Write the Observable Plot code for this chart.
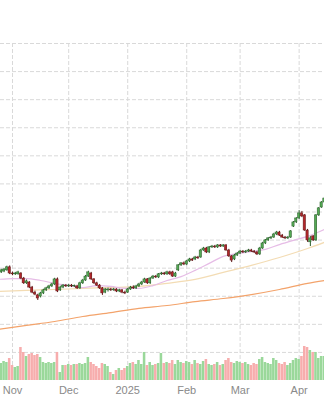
<!DOCTYPE html>
<html><head><meta charset="utf-8">
<script src="https://cdn.jsdelivr.net/npm/d3@7"></script>
<script src="https://cdn.jsdelivr.net/npm/@observablehq/plot@0.6"></script>
<style>
html,body{margin:0;padding:0;background:#fff;}
#chart{position:relative;width:324px;height:400px;overflow:hidden;}
#chart svg{position:absolute;left:0;top:0;}
</style></head><body>
<div id="chart"></div>
<script>
const dates = [
"2024-10-25","2024-10-28","2024-10-29","2024-10-30","2024-10-31",
"2024-11-01","2024-11-04","2024-11-05","2024-11-06","2024-11-07",
"2024-11-08","2024-11-11","2024-11-12","2024-11-13","2024-11-14",
"2024-11-15","2024-11-18","2024-11-19","2024-11-20","2024-11-21",
"2024-11-22","2024-11-25","2024-11-26","2024-11-27","2024-11-29",
"2024-12-02","2024-12-03","2024-12-04","2024-12-05","2024-12-06",
"2024-12-09","2024-12-10","2024-12-11","2024-12-12","2024-12-13",
"2024-12-16","2024-12-17","2024-12-18","2024-12-19","2024-12-20",
"2024-12-23","2024-12-24","2024-12-26","2024-12-27","2024-12-30",
"2024-12-31","2025-01-02","2025-01-03","2025-01-06","2025-01-07",
"2025-01-08","2025-01-09","2025-01-10","2025-01-13","2025-01-14",
"2025-01-15","2025-01-16","2025-01-17","2025-01-21","2025-01-22",
"2025-01-23","2025-01-24","2025-01-27","2025-01-28","2025-01-29",
"2025-01-30","2025-01-31","2025-02-03","2025-02-04","2025-02-05",
"2025-02-06","2025-02-07","2025-02-10","2025-02-11","2025-02-12",
"2025-02-13","2025-02-14","2025-02-18","2025-02-19","2025-02-20",
"2025-02-21","2025-02-24","2025-02-25","2025-02-26","2025-02-27",
"2025-02-28","2025-03-03","2025-03-04","2025-03-05","2025-03-06",
"2025-03-07","2025-03-10","2025-03-11","2025-03-12","2025-03-13",
"2025-03-14","2025-03-17","2025-03-18","2025-03-19","2025-03-20",
"2025-03-21","2025-03-24","2025-03-25","2025-03-26","2025-03-27",
"2025-03-28","2025-03-31","2025-04-01","2025-04-02","2025-04-03",
"2025-04-04","2025-04-07","2025-04-08","2025-04-09","2025-04-10",
"2025-04-11","2025-04-14"];

const open = [
118.1,118.5,118.8,119.2,120.3, 118.1,117.8,117.8,118.1,116.3,
114.6,114.9,113.1,111.3,110.3, 109.9,111.0,112.1,112.8,113.5,
114.2,116.0,112.1,113.1,113.8, 113.5,113.8,113.5,113.5,112.8,
114.6,115.6,117.0,118.1,116.0, 114.6,113.8,112.8,111.3,112.1,
112.4,112.1,112.4,111.7,112.1, 111.3,111.3,112.4,113.1,112.8,
113.5,114.2,114.9,116.0,114.6, 116.3,117.0,116.7,117.8,118.1,
117.8,118.5,118.5,117.0,119.2, 121.0,121.7,121.3,122.4,123.1,
123.1,123.8,123.8,126.3,127.0, 125.6,127.4,127.7,127.4,128.1,
127.7,128.1,126.3,124.2,123.1, 124.5,125.2,125.9,125.6,125.9,
126.3,125.9,125.6,124.9,127.0, 128.8,129.9,130.6,130.9,132.0,
132.7,131.6,130.9,130.6,130.9, 134.8,136.3,137.7,139.5,138.8,
133.4,129.2,131.3,129.9,138.8, 141.6,143.4];

const close = [
118.8,119.2,119.5,120.3,118.1, 117.8,118.1,118.5,116.3,114.6,
115.3,113.1,111.3,110.6,109.2, 111.0,112.1,112.8,113.5,114.2,
116.0,111.7,113.1,113.8,113.5, 113.8,113.5,113.7,112.8,114.6,
115.6,117.0,118.5,116.0,114.6, 113.8,112.8,111.0,112.4,112.4,
112.1,112.4,111.7,112.1,111.3, 111.0,112.4,113.1,112.8,113.5,
114.2,114.9,116.0,114.6,116.3, 117.0,116.7,117.8,118.1,117.8,
118.5,117.8,117.0,118.1,121.0, 121.7,121.3,122.4,123.1,122.7,
123.8,123.5,126.3,127.0,125.6, 127.4,127.7,127.4,128.1,127.7,
128.1,126.3,124.2,122.7,124.5, 125.2,125.9,125.6,125.9,126.3,
125.9,125.6,124.9,127.0,128.8, 129.9,130.6,130.9,132.0,132.7,
131.6,130.9,130.6,130.9,133.1, 136.3,137.7,139.5,138.4,133.4,
129.9,130.6,129.9,138.8,141.3, 143.4,144.8];

const high = [
119.3,119.6,119.9,120.7,120.8, 118.6,118.5,118.9,118.4,116.7,
115.8,115.2,113.5,111.8,110.7, 111.4,112.5,113.2,113.9,114.6,
116.4,116.5,113.6,114.2,114.2, 114.2,114.2,114.0,113.9,115.0,
116.0,117.4,118.9,118.5,116.3, 115.0,114.2,113.1,112.8,112.9,
112.8,112.8,112.7,112.5,112.4, 111.8,112.8,113.5,113.7,113.9,
114.6,115.3,116.4,116.3,116.7, 117.4,117.4,118.1,118.5,118.5,
118.9,118.9,118.9,118.5,121.3, 122.0,122.2,122.7,123.5,123.5,
124.2,124.2,126.7,127.4,127.4, 127.7,128.1,128.1,128.4,128.4,
128.4,128.4,126.7,124.5,124.9, 125.6,126.3,126.3,126.3,126.7,
126.7,126.3,126.0,127.4,129.2, 130.2,130.9,131.3,132.4,133.1,
133.1,132.0,131.3,131.3,133.4, 136.6,138.0,140.5,140.2,139.1,
133.8,131.3,131.6,139.1,141.6, 143.7,145.2];

const low = [
117.7,118.1,118.4,118.9,117.7, 117.3,117.4,117.5,115.9,114.2,
114.2,112.7,110.9,110.2,108.5, 109.4,110.6,111.7,112.4,113.1,
113.8,111.3,111.7,112.7,113.1, 113.1,113.1,113.1,112.4,112.4,
114.2,115.3,116.7,115.6,114.2, 113.5,112.4,110.3,110.9,111.5,
111.7,111.8,111.3,111.3,110.9, 110.6,111.0,112.1,112.4,112.4,
113.1,113.8,114.6,114.2,114.2, 116.0,116.3,116.3,117.4,117.4,
117.4,117.4,116.7,116.7,118.8, 120.6,120.9,120.9,122.0,122.4,
122.7,123.1,123.5,126.0,125.2, 125.2,127.0,127.0,127.0,127.4,
127.4,126.0,123.8,122.0,122.7, 124.2,124.9,125.2,125.2,125.6,
125.6,125.2,124.5,124.5,126.7, 128.4,129.5,130.2,130.6,131.6,
131.3,130.6,130.2,130.2,130.6, 134.5,135.9,137.3,138.0,133.1,
129.2,127.7,129.5,129.5,138.4, 141.3,143.0];

// volume, millions of shares
const volume = [
18,17,19,18,22, 15,13,14,33,28,
24,26,27,25,26, 23,18,17,18,17,
18,28,8,15,15, 16,15,16,16,17,
16,17,23,18,16, 14,12,17,16,14,
8,6,10,12,10, 12,14,17,18,16,
20,16,28,15,18, 15,16,17,27,17,
18,17,20,16,20, 18,17,19,18,16,
20,17,16,19,21, 16,15,16,18,15,
16,20,22,18,17, 19,18,17,18,16,
15,17,16,21,23, 18,17,16,22,20,
17,16,18,15,17, 20,22,21,24,34,
33,30,28,28,22, 24,24];

// moving averages
const ma20Dates = ["2024-10-25","2024-11-01","2024-11-08","2024-11-15","2024-11-22","2024-12-02","2024-12-09","2024-12-16","2024-12-23","2024-12-31","2025-01-08","2025-01-15","2025-01-23","2025-01-30","2025-02-06","2025-02-13","2025-02-21","2025-02-28","2025-03-07","2025-03-14","2025-03-21","2025-03-28","2025-04-04","2025-04-14"];
const ma20Values = [116.0,116.3,116.3,115.6,114.6,113.8,113.1,113.8,113.5,112.8,112.8,113.8,115.6,117.0,119.2,121.7,124.2,125.2,125.9,126.7,128.4,129.9,131.3,133.8];
const ma50Dates = ["2024-10-25","2024-11-08","2024-11-22","2024-12-09","2024-12-23","2025-01-08","2025-01-23","2025-02-06","2025-02-21","2025-03-07","2025-03-21","2025-04-04","2025-04-14"];
const ma50Values = [111.7,112.1,112.4,112.8,113.1,113.5,114.6,116.0,118.5,121.0,123.8,127.0,129.2];
const ma200Dates = ma50Dates;
const ma200Values = [98.2,99.6,101.0,102.8,104.2,105.7,106.7,108.1,109.2,110.6,112.4,114.6,115.6];

const monthStarts = ["2024-11-01","2024-12-02","2025-01-02","2025-02-03","2025-03-03","2025-04-01"];
const monthLabels = ["Nov","Dec","2025","Feb","Mar","Apr"];
const priceTicks = [90,100,110,120,130,140,150,160,170,180,190,200];

const idx = d => dates.indexOf(d);
const candles = dates.map((d, i) => ({i, date: d, open: open[i], high: high[i], low: low[i], close: close[i], volume: volume[i], up: close[i] >= open[i]}));
const maLine = (ds, vs) => ds.map((d, k) => ({i: idx(d), v: vs[k]}));
const monthIdx = monthStarts.map(idx);

const xDomain = [0.73, 116.03];
const grid = {stroke: "#d9d9d9", strokeOpacity: 1, strokeDasharray: "4,2", strokeWidth: 1};
const font = "'Liberation Sans', Arial, sans-serif";

const price = Plot.plot({
  width: 324, height: 400,
  marginTop: 43, marginBottom: 20, marginLeft: 0, marginRight: 0,
  style: {fontFamily: font, background: "#fff"},
  x: {type: "linear", domain: xDomain, axis: null, label: null},
  y: {domain: [80, 200], axis: null, label: null},
  color: {type: "identity"},
  marks: [
    Plot.gridY(priceTicks, grid),
    Plot.gridX(monthIdx, grid),
    Plot.axisX(monthIdx, {tickSize: 0, tickPadding: 6, fontSize: 11, color: "#8a8a8a", label: null,
      tickFormat: d => monthLabels[monthIdx.indexOf(d)]}),
    Plot.line(maLine(ma200Dates, ma200Values), {x: "i", y: "v", stroke: "#f3a36b", strokeWidth: 1.2, curve: "monotone-x", clip: true}),
    Plot.line(maLine(ma50Dates, ma50Values), {x: "i", y: "v", stroke: "#f3dcb4", strokeWidth: 1.2, curve: "monotone-x", clip: true}),
    Plot.line(maLine(ma20Dates, ma20Values), {x: "i", y: "v", stroke: "#e6bce6", strokeWidth: 1.2, curve: "monotone-x", clip: true}),
    Plot.ruleX(candles, {x: "i", y1: "low", y2: "high", stroke: d => d.up ? "#2c5e2c" : "#5e1818", strokeWidth: 1, clip: true}),
    Plot.rect(candles, {x1: d => d.i - 0.4, x2: d => d.i + 0.4, y1: "open", y2: "close",
      fill: d => d.up ? "#54a954" : "#b3262a", stroke: d => d.up ? "#2c5e2c" : "#5e1818", strokeWidth: 0.5, clip: true})
  ]
});

const vol = Plot.plot({
  width: 324, height: 400,
  marginTop: 340, marginBottom: 20, marginLeft: 0, marginRight: 0,
  style: {background: "transparent"},
  x: {type: "linear", domain: xDomain, axis: null, label: null},
  y: {domain: [0, 40], axis: null, label: null},
  color: {type: "identity"},
  marks: [
    Plot.rectY(candles, {x1: d => d.i - 0.45, x2: d => d.i + 0.45, y: "volume",
      fill: d => d.up ? "#9ad89a" : "#f7adad", clip: true})
  ]
});

const el = document.getElementById("chart");
el.appendChild(price);
el.appendChild(vol);
</script>
</body></html>
